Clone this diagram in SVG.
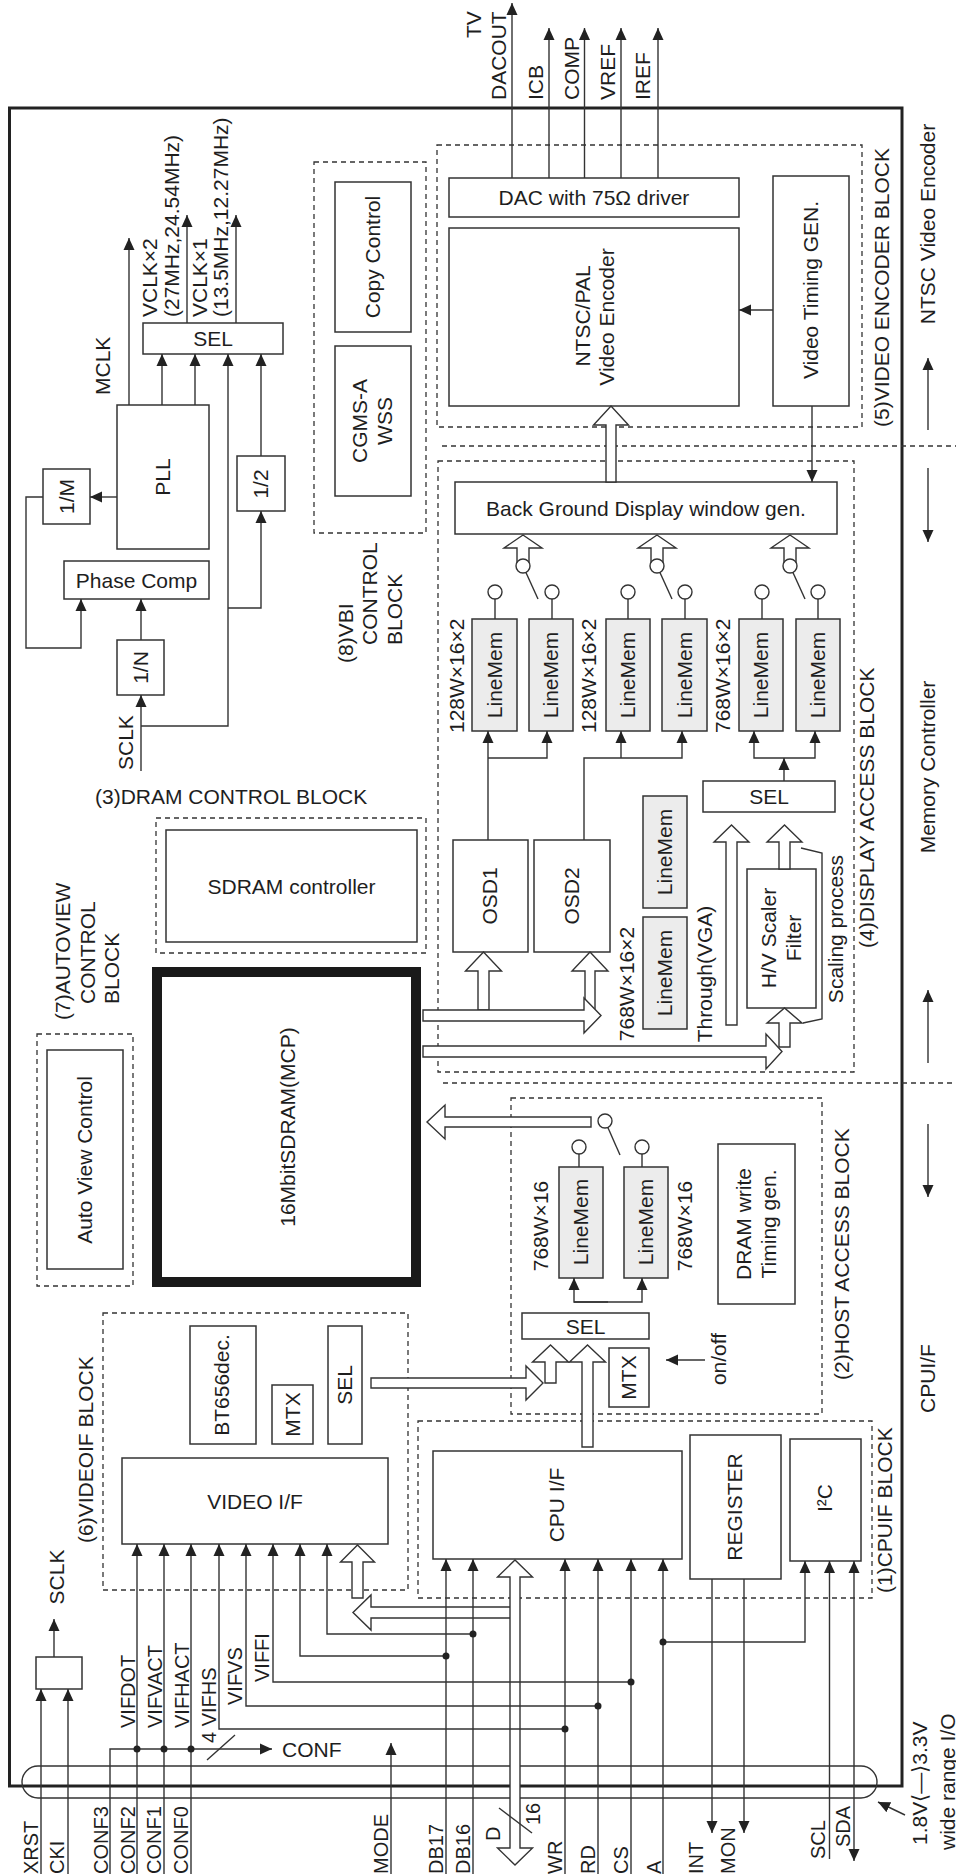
<svg xmlns="http://www.w3.org/2000/svg" width="956" height="1876" viewBox="0 0 956 1876">
<defs>
<marker id="ar" viewBox="0 0 12 12" refX="12" refY="6" markerWidth="12" markerHeight="12" markerUnits="userSpaceOnUse" orient="auto-start-reverse"><path d="M0,0.5 L12,6 L0,11.5 z" fill="#222"/></marker>
</defs>
<style>
text{font-family:"Liberation Sans",Arial,Helvetica,sans-serif;font-size:21px;fill:#1e1e1e}
.m{text-anchor:middle}
.p{font-size:20px}
.bx{fill:#fff;stroke:#333;stroke-width:1.5}
.lm{fill:#ececec;stroke:#333;stroke-width:1.5}
.ds{fill:none;stroke:#333;stroke-width:1.3;stroke-dasharray:5 4}
.ln{fill:none;stroke:#333;stroke-width:1.4}
.a{marker-end:url(#ar)}
.ha{fill:#fff;stroke:#333;stroke-width:1.4}
.dot{fill:#222}
.sw{fill:#fff;stroke:#333;stroke-width:1.4}
</style>
<rect width="956" height="1876" fill="#fff"/>

<g id="frame">
<rect x="9.5" y="108" width="892.5" height="1678" fill="none" stroke="#222" stroke-width="3"/>
<line class="ds" x1="442" y1="446" x2="956" y2="446"/>
<line class="ds" x1="443" y1="1083" x2="956" y2="1083"/>
<rect x="22" y="1766" width="855" height="32" rx="16" class="ln"/>
<text class="m" transform="translate(928,224) rotate(-90)" dy=".35em">NTSC Video Encoder</text>
<text class="m" transform="translate(928,767) rotate(-90)" dy=".35em">Memory Controller</text>
<text transform="translate(928,1413) rotate(-90)" dy=".35em">CPUI/F</text>
<text transform="translate(919.5,1845) rotate(-90)" dy=".35em">1.8V⟨—⟩3.3V</text>
<text transform="translate(947.5,1850) rotate(-90)" dy=".35em">wide range I/O</text>
</g>

<g id="pll">
<rect class="bx" x="143" y="323" width="140" height="31"/>
<text class="m" x="213" y="346">SEL</text>
<rect class="bx" x="117" y="405" width="92" height="144"/>
<text class="m" transform="translate(163,477) rotate(-90)" dy=".35em">PLL</text>
<rect class="bx" x="237" y="456" width="48" height="55"/>
<text class="m" transform="translate(261,484) rotate(-90)" dy=".35em">1/2</text>
<rect class="bx" x="43" y="469" width="47" height="55"/>
<text class="m" transform="translate(66.5,496.5) rotate(-90)" dy=".35em">1/M</text>
<rect class="bx" x="64" y="561" width="145" height="38"/>
<text class="m" x="136.5" y="587.5">Phase Comp</text>
<rect class="bx" x="117" y="640" width="47" height="55"/>
<text class="m" transform="translate(140.5,667.5) rotate(-90)" dy=".35em">1/N</text>
<text transform="translate(103,395) rotate(-90)" dy=".35em">MCLK</text>
<text transform="translate(150,317) rotate(-90)" dy=".35em">VCLK×2</text>
<text transform="translate(172,317) rotate(-90)" dy=".35em">(27MHz,24.54MHz)</text>
<text transform="translate(200,317) rotate(-90)" dy=".35em">VCLK×1</text>
<text transform="translate(221,317) rotate(-90)" dy=".35em">(13.5MHz,12.27MHz)</text>
<text transform="translate(126,770) rotate(-90)" dy=".35em">SCLK</text>
</g>

<g id="vbi">
<rect class="ds" x="314" y="162" width="112" height="371"/>
<rect class="bx" x="335" y="182" width="76" height="150"/>
<text class="m" transform="translate(373,257) rotate(-90)" dy=".35em">Copy Control</text>
<rect class="bx" x="335" y="346" width="76" height="150"/>
<text class="m" transform="translate(360,421) rotate(-90)" dy=".35em">CGMS-A</text>
<text class="m" transform="translate(385,421) rotate(-90)" dy=".35em">WSS</text>
<text transform="translate(346,663) rotate(-90)" dy=".35em">(8)VBI</text>
<text transform="translate(370,645) rotate(-90)" dy=".35em">CONTROL</text>
<text transform="translate(395,645) rotate(-90)" dy=".35em">BLOCK</text>
</g>

<g id="encoder">
<rect class="ds" x="437" y="145" width="425" height="282"/>
<rect class="bx" x="449" y="178" width="290" height="39"/>
<text class="m" x="594" y="205">DAC with 75Ω driver</text>
<rect class="bx" x="449" y="228" width="290" height="178"/>
<text class="m" transform="translate(583,316) rotate(-90)" dy=".35em">NTSC/PAL</text>
<text class="m" transform="translate(607,317) rotate(-90)" dy=".35em">Video Encoder</text>
<rect class="bx" x="773" y="176" width="76" height="230"/>
<text class="m" transform="translate(811,290) rotate(-90)" dy=".35em">Video Timing GEN.</text>
<text transform="translate(882,427) rotate(-90)" dy=".35em">(5)VIDEO ENCODER BLOCK</text>
<text transform="translate(473.5,38) rotate(-90)" dy=".35em">TV</text>
<text transform="translate(499,100) rotate(-90)" dy=".35em">DACOUT</text>
<text transform="translate(536,100) rotate(-90)" dy=".35em">ICB</text>
<text transform="translate(572,100) rotate(-90)" dy=".35em">COMP</text>
<text transform="translate(608,100) rotate(-90)" dy=".35em">VREF</text>
<text transform="translate(643,100) rotate(-90)" dy=".35em">IREF</text>
</g>

<g id="display">
<rect class="ds" x="438" y="461" width="416" height="611"/>
<text transform="translate(867,948) rotate(-90)" dy=".35em">(4)DISPLAY ACCESS BLOCK</text>
<rect class="bx" x="455" y="482" width="382" height="52"/>
<text class="m" x="646" y="516">Back Ground Display window gen.</text>
<rect class="lm" x="472" y="619" width="45" height="112"/>
<rect class="lm" x="529" y="619" width="44" height="112"/>
<rect class="lm" x="606" y="619" width="44" height="112"/>
<rect class="lm" x="662" y="619" width="45" height="112"/>
<rect class="lm" x="739" y="619" width="44" height="112"/>
<rect class="lm" x="796" y="619" width="44" height="112"/>
<text class="m" transform="translate(494.5,675) rotate(-90)" dy=".35em">LineMem</text>
<text class="m" transform="translate(551,675) rotate(-90)" dy=".35em">LineMem</text>
<text class="m" transform="translate(628,675) rotate(-90)" dy=".35em">LineMem</text>
<text class="m" transform="translate(684.5,675) rotate(-90)" dy=".35em">LineMem</text>
<text class="m" transform="translate(761,675) rotate(-90)" dy=".35em">LineMem</text>
<text class="m" transform="translate(818,675) rotate(-90)" dy=".35em">LineMem</text>
<text transform="translate(457,733) rotate(-90)" dy=".35em">128W×16×2</text>
<text transform="translate(589,733) rotate(-90)" dy=".35em">128W×16×2</text>
<text transform="translate(723,733) rotate(-90)" dy=".35em">768W×16×2</text>
<rect class="bx" x="703" y="781" width="132" height="31"/>
<text class="m" x="769" y="804">SEL</text>
<rect class="bx" x="453" y="840" width="75" height="112"/>
<text class="m" transform="translate(490,896) rotate(-90)" dy=".35em">OSD1</text>
<rect class="bx" x="534" y="840" width="76" height="112"/>
<text class="m" transform="translate(572,896) rotate(-90)" dy=".35em">OSD2</text>
<rect class="lm" x="643" y="796" width="44" height="112"/>
<rect class="lm" x="643" y="917" width="44" height="112"/>
<text class="m" transform="translate(665,852) rotate(-90)" dy=".35em">LineMem</text>
<text class="m" transform="translate(665,973) rotate(-90)" dy=".35em">LineMem</text>
<text class="m" transform="translate(627,984) rotate(-90)" dy=".35em">768W×16×2</text>
<text class="m" transform="translate(705,974) rotate(-90)" dy=".35em">Through(VGA)</text>
<rect class="bx" x="747" y="869" width="69" height="139"/>
<text class="m" transform="translate(769,938) rotate(-90)" dy=".35em">H/V Scaler</text>
<text class="m" transform="translate(794,938) rotate(-90)" dy=".35em">Filter</text>
<text class="m" transform="translate(836,929) rotate(-90)" dy=".35em">Scaling process</text>
</g>

<g id="dramctl">
<rect class="ds" x="156" y="818" width="270" height="135"/>
<rect class="bx" x="166" y="830" width="251" height="112"/>
<text class="m" x="291.5" y="893.5">SDRAM controller</text>
<text x="95" y="804">(3)DRAM CONTROL BLOCK</text>
</g>

<g id="sdram">
<rect x="157" y="972" width="259" height="310" fill="#fff" stroke="#1a1a1a" stroke-width="10"/>
<text class="m" transform="translate(288,1127) rotate(-90)" dy=".35em">16MbitSDRAM(MCP)</text>
</g>

<g id="autoview">
<rect class="ds" x="37" y="1034" width="96" height="252"/>
<rect class="bx" x="47" y="1050" width="76" height="219"/>
<text class="m" transform="translate(85,1160) rotate(-90)" dy=".35em">Auto View Control</text>
<text transform="translate(63,1020) rotate(-90)" dy=".35em">(7)AUTOVIEW</text>
<text transform="translate(88,1004) rotate(-90)" dy=".35em">CONTROL</text>
<text transform="translate(112,1004) rotate(-90)" dy=".35em">BLOCK</text>
</g>

<g id="hostaccess">
<rect class="ds" x="511" y="1098" width="311" height="316"/>
<text transform="translate(842,1380) rotate(-90)" dy=".35em">(2)HOST ACCESS BLOCK</text>
<rect class="lm" x="559" y="1167" width="44" height="111"/>
<rect class="lm" x="624" y="1167" width="44" height="111"/>
<text class="m" transform="translate(581,1222) rotate(-90)" dy=".35em">LineMem</text>
<text class="m" transform="translate(646,1222) rotate(-90)" dy=".35em">LineMem</text>
<text class="m" transform="translate(541,1226) rotate(-90)" dy=".35em">768W×16</text>
<text class="m" transform="translate(685,1226) rotate(-90)" dy=".35em">768W×16</text>
<rect class="bx" x="718" y="1144" width="77" height="160"/>
<text class="m" transform="translate(743.5,1224) rotate(-90)" dy=".35em">DRAM write</text>
<text class="m" transform="translate(769,1224) rotate(-90)" dy=".35em">Timing gen.</text>
<rect class="bx" x="522" y="1313" width="127" height="26"/>
<text class="m" x="585.5" y="1333.5">SEL</text>
<rect class="bx" x="609" y="1348" width="40" height="59"/>
<text class="m" transform="translate(629,1377.5) rotate(-90)" dy=".35em">MTX</text>
<text class="m" transform="translate(719,1359) rotate(-90)" dy=".35em">on/off</text>
</g>

<g id="videoif">
<rect class="ds" x="103" y="1313" width="305" height="277"/>
<text transform="translate(86,1543) rotate(-90)" dy=".35em">(6)VIDEOIF BLOCK</text>
<rect class="bx" x="190" y="1326" width="66" height="118"/>
<text class="m" transform="translate(222,1385) rotate(-90)" dy=".35em">BT656dec.</text>
<rect class="bx" x="272" y="1385" width="41" height="59"/>
<text class="m" transform="translate(292.5,1414.5) rotate(-90)" dy=".35em">MTX</text>
<rect class="bx" x="328" y="1326" width="34" height="118"/>
<text class="m" transform="translate(345,1385) rotate(-90)" dy=".35em">SEL</text>
<rect class="bx" x="122" y="1458" width="266" height="86"/>
<text class="m" x="255" y="1508.5">VIDEO I/F</text>
</g>

<g id="cpuif">
<rect class="ds" x="418" y="1421" width="454" height="177"/>
<text transform="translate(885,1593) rotate(-90)" dy=".35em">(1)CPUIF BLOCK</text>
<rect class="bx" x="433" y="1451" width="249" height="108"/>
<text class="m" transform="translate(557,1505) rotate(-90)" dy=".35em">CPU I/F</text>
<rect class="bx" x="690" y="1435" width="91" height="144"/>
<text class="m" transform="translate(735,1507) rotate(-90)" dy=".35em">REGISTER</text>
<rect class="bx" x="790" y="1439" width="71" height="122"/>
<text class="m" transform="translate(825,1498) rotate(-90)" dy=".35em">I²C</text>
</g>

<g id="clkbuf">
<rect class="bx" x="36" y="1657" width="46" height="32"/>
<text class="m" transform="translate(57,1577) rotate(-90)" dy=".35em">SCLK</text>
</g>

<g id="pins">
<text class="p" transform="translate(31,1874) rotate(-90)" dy=".35em">XRST</text>
<text class="p" transform="translate(57,1874) rotate(-90)" dy=".35em">CKI</text>
<text class="p" transform="translate(101,1874) rotate(-90)" dy=".35em">CONF3</text>
<text class="p" transform="translate(128,1874) rotate(-90)" dy=".35em">CONF2</text>
<text class="p" transform="translate(154,1874) rotate(-90)" dy=".35em">CONF1</text>
<text class="p" transform="translate(181,1874) rotate(-90)" dy=".35em">CONF0</text>
<text class="p" transform="translate(381,1874) rotate(-90)" dy=".35em">MODE</text>
<text class="p" transform="translate(436,1874) rotate(-90)" dy=".35em">DB17</text>
<text class="p" transform="translate(463,1874) rotate(-90)" dy=".35em">DB16</text>
<text class="p" transform="translate(493,1841) rotate(-90)" dy=".35em">D</text>
<text class="p" transform="translate(533,1825) rotate(-90)" dy=".35em">16</text>
<text class="p" transform="translate(555,1874) rotate(-90)" dy=".35em">WR</text>
<text class="p" transform="translate(588,1874) rotate(-90)" dy=".35em">RD</text>
<text class="p" transform="translate(621,1874) rotate(-90)" dy=".35em">CS</text>
<text class="p" transform="translate(654,1874) rotate(-90)" dy=".35em">A</text>
<text class="p" transform="translate(696,1874) rotate(-90)" dy=".35em">INT</text>
<text class="p" transform="translate(728,1874) rotate(-90)" dy=".35em">MON</text>
<text class="p" transform="translate(818,1859) rotate(-90)" dy=".35em">SCL</text>
<text class="p" transform="translate(843,1847) rotate(-90)" dy=".35em">SDA</text>
<text class="p" transform="translate(128,1728) rotate(-90)" dy=".35em">VIFDOT</text>
<text class="p" transform="translate(155,1728) rotate(-90)" dy=".35em">VIFVACT</text>
<text class="p" transform="translate(182,1728) rotate(-90)" dy=".35em">VIFHACT</text>
<text class="p" transform="translate(209,1743) rotate(-90)" dy=".35em">4 VIFHS</text>
<text class="p" transform="translate(235,1705) rotate(-90)" dy=".35em">VIFVS</text>
<text class="p" transform="translate(262,1682) rotate(-90)" dy=".35em">VIFFI</text>
<text x="282" y="1757">CONF</text>
</g>

<g id="connectors">
<!-- PLL area -->
<line class="ln a" x1="129" y1="405" x2="129" y2="238"/>
<line class="ln a" x1="162" y1="405" x2="162" y2="354"/>
<line class="ln a" x1="195" y1="405" x2="195" y2="354"/>
<line class="ln a" x1="187" y1="323" x2="187" y2="215"/>
<line class="ln a" x1="236" y1="323" x2="236" y2="215"/>
<line class="ln a" x1="261" y1="456" x2="261" y2="354"/>
<line class="ln a" x1="141" y1="771" x2="141" y2="695"/>
<polyline class="ln a" points="141,726 228,726 228,354"/>
<polyline class="ln a" points="228,608 261,608 261,511"/>
<line class="ln a" x1="141" y1="640" x2="141" y2="599"/>
<line class="ln a" x1="117" y1="497" x2="90" y2="497"/>
<polyline class="ln a" points="43,497 26,497 26,648 81,648 81,599"/>
<!-- encoder -->
<line class="ln a" x1="773" y1="310" x2="739" y2="310"/>
<line class="ln a" x1="812" y1="406" x2="812" y2="482"/>
<line class="ln a" x1="512" y1="178" x2="512" y2="3"/>
<line class="ln a" x1="549" y1="178" x2="549" y2="28"/>
<line class="ln a" x1="584.5" y1="178" x2="584.5" y2="28"/>
<line class="ln a" x1="621" y1="178" x2="621" y2="28"/>
<line class="ln a" x1="658" y1="178" x2="658" y2="28"/>
<polygon class="ha" points="606,482 606,425 593.5,425 611,406 628.5,425 616,425 616,482"/>
<!-- right side arrows -->
<line class="ln a" x1="928" y1="430" x2="928" y2="358"/>
<line class="ln a" x1="928" y1="468" x2="928" y2="542"/>
<line class="ln a" x1="928" y1="1063" x2="928" y2="990"/>
<line class="ln a" x1="928" y1="1124" x2="928" y2="1197"/>
<!-- display switches -->
<line class="ln" x1="523" y1="566" x2="538" y2="599"/>
<line class="ln" x1="657" y1="566" x2="672" y2="599"/>
<line class="ln" x1="790" y1="566" x2="805" y2="599"/>
<polygon class="ha" points="517,566 517,548 504,548 523,535 542,548 529,548 529,566"/>
<polygon class="ha" points="651,566 651,548 638,548 657,535 676,548 663,548 663,566"/>
<polygon class="ha" points="784,566 784,548 771,548 790,535 809,548 796,548 796,566"/>
<circle class="sw" cx="523" cy="566" r="7"/>
<circle class="sw" cx="657" cy="566" r="7"/>
<circle class="sw" cx="790" cy="566" r="7"/>
<line class="ln" x1="495" y1="599" x2="495" y2="619"/>
<line class="ln" x1="552" y1="599" x2="552" y2="619"/>
<line class="ln" x1="628" y1="599" x2="628" y2="619"/>
<line class="ln" x1="685" y1="599" x2="685" y2="619"/>
<line class="ln" x1="762" y1="599" x2="762" y2="619"/>
<line class="ln" x1="818" y1="599" x2="818" y2="619"/>
<circle class="sw" cx="495" cy="592" r="7"/>
<circle class="sw" cx="552" cy="592" r="7"/>
<circle class="sw" cx="628" cy="592" r="7"/>
<circle class="sw" cx="685" cy="592" r="7"/>
<circle class="sw" cx="762" cy="592" r="7"/>
<circle class="sw" cx="818" cy="592" r="7"/>
<line class="ln a" x1="488" y1="840" x2="488" y2="731"/>
<polyline class="ln a" points="488,758 547,758 547,731"/>
<polyline class="ln a" points="584,840 584,758 682,758 682,731"/>
<line class="ln a" x1="621" y1="758" x2="621" y2="731"/>
<line class="ln a" x1="784" y1="781" x2="784" y2="758"/>
<polyline class="ln a" points="784,758 754,758 754,731"/>
<polyline class="ln a" points="784,758 815,758 815,731"/>
<polyline class="ln" points="801,848 822,853 822,1019 803,1023"/>
<polygon class="ha" points="478,1010 478,971 465.5,971 483.5,952 501.5,971 489,971 489,1010"/>
<polygon class="ha" points="585,1010 585,971 572,971 590,952 608,971 595,971 595,1010"/>
<polygon class="ha" points="423,1010 584,1010 584,998 601,1015.5 584,1033 584,1021 423,1021"/>
<polygon class="ha" points="726,1025 726,842 714,842 731.5,825 749,842 737,842 737,1025"/>
<polygon class="ha" points="779,869 779,842 767,842 784.5,825 802,842 790,842 790,869"/>
<polygon class="ha" points="779,1047 779,1023 767,1023 784.5,1008 802,1023 790,1023 790,1047"/>
<polygon class="ha" points="423,1046 766,1046 766,1034 782,1051.5 766,1069 766,1057 423,1057"/>
<!-- host access -->
<line class="ln" x1="605" y1="1121" x2="620" y2="1155"/>
<polygon class="ha" points="591,1117 445,1117 445,1105 427,1122 445,1139 445,1127 591,1127"/>
<circle class="sw" cx="605" cy="1121" r="7"/>
<line class="ln" x1="579" y1="1154" x2="579" y2="1167"/>
<line class="ln" x1="642" y1="1154" x2="642" y2="1167"/>
<circle class="sw" cx="579" cy="1147" r="7"/>
<circle class="sw" cx="642" cy="1147" r="7"/>
<polyline class="ln a" points="608,1302 574,1302 574,1278"/>
<polyline class="ln a" points="574,1302 642,1302 642,1278"/>
<line class="ln a" x1="705" y1="1360" x2="666" y2="1360"/>
<polygon class="ha" points="545,1383 545,1362 532.5,1362 550.5,1345 568.5,1362 556,1362 556,1383"/>
<polygon class="ha" points="582,1447 582,1362 569.5,1362 587.5,1345 605.5,1362 593,1362 593,1447"/>
<polygon class="ha" points="371,1378 526,1378 526,1366 543,1383 526,1400 526,1388 371,1388"/>
<!-- video / cpu -->
<polygon class="ha" points="352,1598 352,1562 340.5,1562 357.5,1545 374.5,1562 363,1562 363,1598"/>
<polygon class="ha" points="511,1607 371,1607 371,1595 353,1612.5 371,1630 371,1618 511,1618"/>
<polygon class="ha" points="510,1577 497.5,1577 515,1560 532.5,1577 520,1577 520,1848 532.5,1848 515,1865 497.5,1848 510,1848"/>
<line class="ln" x1="499" y1="1808" x2="532" y2="1833"/>
<line class="ln a" x1="41" y1="1874" x2="41" y2="1689"/>
<line class="ln a" x1="68" y1="1874" x2="68" y2="1689"/>
<line class="ln a" x1="54" y1="1657" x2="54" y2="1619"/>
<polyline class="ln a" points="110,1874 110,1749 272,1749"/>
<line class="ln a" x1="137" y1="1874" x2="137" y2="1544"/>
<line class="ln a" x1="164" y1="1874" x2="164" y2="1544"/>
<line class="ln a" x1="191" y1="1874" x2="191" y2="1544"/>
<circle class="dot" cx="137" cy="1749" r="3.5"/>
<circle class="dot" cx="164" cy="1749" r="3.5"/>
<circle class="dot" cx="191" cy="1749" r="3.5"/>
<line class="ln" x1="207" y1="1760" x2="235" y2="1735"/>
<line class="ln a" x1="391" y1="1874" x2="391" y2="1743"/>
<polyline class="ln a" points="565,1729 219,1729 219,1544"/>
<polyline class="ln a" points="598,1706 246,1706 246,1544"/>
<polyline class="ln a" points="631,1682 273,1682 273,1544"/>
<polyline class="ln a" points="446,1656 300,1656 300,1544"/>
<polyline class="ln a" points="473,1634 327,1634 327,1544"/>
<line class="ln a" x1="446" y1="1874" x2="446" y2="1559"/>
<line class="ln a" x1="473" y1="1874" x2="473" y2="1559"/>
<line class="ln a" x1="565" y1="1874" x2="565" y2="1559"/>
<line class="ln a" x1="598" y1="1874" x2="598" y2="1559"/>
<line class="ln a" x1="631" y1="1874" x2="631" y2="1559"/>
<line class="ln a" x1="663" y1="1874" x2="663" y2="1559"/>
<circle class="dot" cx="446" cy="1656" r="3.5"/>
<circle class="dot" cx="473" cy="1634" r="3.5"/>
<circle class="dot" cx="565" cy="1729" r="3.5"/>
<circle class="dot" cx="598" cy="1706" r="3.5"/>
<circle class="dot" cx="631" cy="1682" r="3.5"/>
<polyline class="ln a" points="663,1642 805,1642 805,1561"/>
<circle class="dot" cx="663" cy="1642" r="3.5"/>
<line class="ln a" x1="712" y1="1579" x2="712" y2="1833"/>
<line class="ln a" x1="744" y1="1579" x2="744" y2="1833"/>
<line class="ln a" x1="829.5" y1="1859" x2="829.5" y2="1561"/>
<line class="ln a" x1="854" y1="1861" x2="854" y2="1561" style="marker-start:url(#ar)"/>
<line class="ln a" x1="905" y1="1815" x2="878" y2="1802"/>
</g>
</svg>
